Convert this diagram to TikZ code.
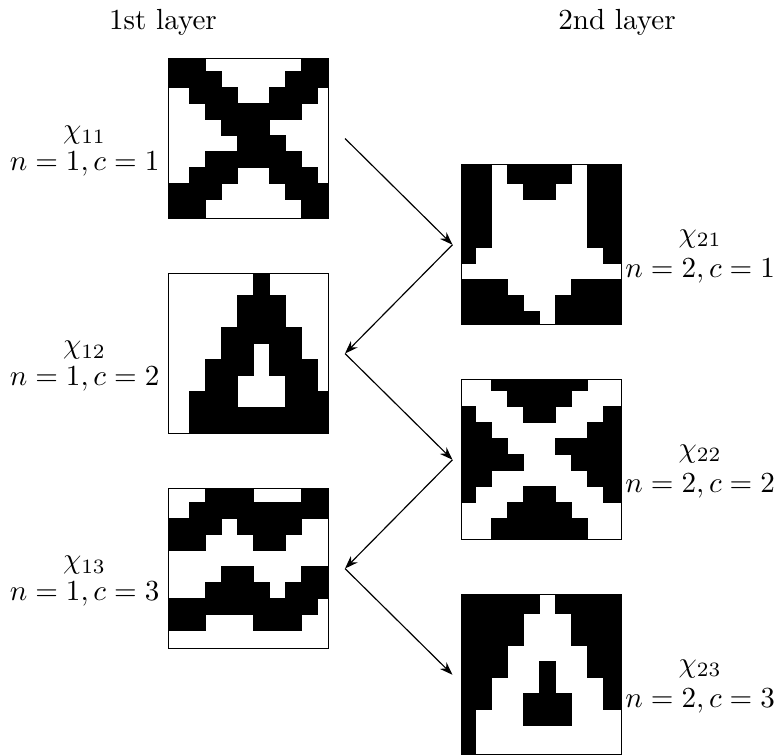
\documentclass[tikz,border=0pt]{standalone}
\usepackage{amsmath,amssymb}
\usepackage{tikz}
\usetikzlibrary{arrows.meta,positioning}

% black pixels of a 10x10 bitmap, clipped to the framed node #1
% #2,#3: offset of the pixel raster in cells, #4: rows (top to bottom)
\newcommand{\bitmap}[4]{%
  \begin{scope}[shift={(#1.north west)}]
    \clip (0,0) rectangle (160,160);
    \foreach \row [count=\j] in {#4} {
      \foreach \v [count=\i] in \row {
        \ifnum\v=1
          \pgfmathsetmacro{\xa}{ifthenelse(\i==1,-20,(\i-1+(#2))*16)}
          \pgfmathsetmacro{\xb}{ifthenelse(\i==10,180,(\i+(#2))*16)}
          \pgfmathsetmacro{\ya}{ifthenelse(\j==1,-20,(\j-1+(#3))*16)}
          \pgfmathsetmacro{\yb}{ifthenelse(\j==10,180,(\j+(#3))*16)}
          \path[cell] (\xa,\ya) rectangle (\xb,\yb);
        \fi
      }
    }
  \end{scope}
}

\begin{document}
\begin{tikzpicture}[x=0.3436pt, y=-0.3436pt,
    gridbox/.style={draw, minimum size=54.98pt, inner sep=0pt, outer sep=0pt},
    cell/.style={fill=black, draw=black, line width=0.2pt},
    lab/.style={align=center, inner sep=0pt},
    flow/.style={-{Stealth[length=4.5pt, width=3.2pt]}}]
    \useasboundingbox (0,0) rectangle (779,755);

    \node (t1) at (163,22) {1st layer};
    \node (t2) at (617,22) {2nd layer};

    % first layer
    \node[gridbox] (g11) at (248.5,138.5) {};
    \node[gridbox, below=18.9pt of g11] (g12) {};
    \node[gridbox, below=18.9pt of g12] (g13) {};
    % second layer
    \node[gridbox] (g21) at (541.2,244.7) {};
    \node[gridbox, below=18.9pt of g21] (g22) {};
    \node[gridbox, below=18.9pt of g22] (g23) {};

    \bitmap{g11}{0.29}{-0.17}{
      {1,1,0,0,0,0,0,0,1,1},{1,1,1,0,0,0,0,1,1,1},{0,1,1,1,0,0,1,1,1,0},
      {0,0,1,1,1,1,1,1,0,0},{0,0,0,1,1,1,0,0,0,0},{0,0,0,0,1,1,1,0,0,0},
      {0,0,1,1,1,1,1,1,0,0},{0,1,1,1,0,0,1,1,1,0},{1,1,1,0,0,0,0,1,1,1},
      {1,1,0,0,0,0,0,0,1,1}}
    \bitmap{g12}{0.29}{0.33}{
      {0,0,0,0,0,1,0,0,0,0},{0,0,0,0,1,1,1,0,0,0},{0,0,0,0,1,1,1,0,0,0},
      {0,0,0,1,1,1,1,1,0,0},{0,0,0,1,1,0,1,1,0,0},{0,0,1,1,1,0,1,1,1,0},
      {0,0,1,1,0,0,0,1,1,0},{0,1,1,1,0,0,0,1,1,1},{0,1,1,1,1,1,1,1,1,1},
      {0,1,1,1,1,1,1,1,1,1}}
    \bitmap{g13}{0.29}{-0.125}{
      {0,0,1,1,1,0,0,0,1,1},{0,1,1,1,1,1,1,1,1,1},{1,1,1,0,1,1,1,1,0,0},
      {1,1,0,0,0,1,1,0,0,0},{0,0,0,0,0,0,0,0,0,0},{0,0,0,1,1,0,0,0,1,1},
      {0,0,1,1,1,1,0,1,1,1},{1,1,1,1,1,1,1,1,1,0},{1,1,0,0,0,1,1,1,0,0},
      {0,0,0,0,0,0,0,0,0,0}}
    \bitmap{g21}{-0.125}{0.17}{
      {1,1,0,1,1,1,1,0,1,1},{1,1,0,0,1,1,0,0,1,1},{1,1,0,0,0,0,0,0,1,1},
      {1,1,0,0,0,0,0,0,1,1},{1,1,0,0,0,0,0,0,1,1},{1,0,0,0,0,0,0,0,0,1},
      {0,0,0,0,0,0,0,0,0,0},{1,1,1,0,0,0,0,1,1,1},{1,1,1,1,0,0,1,1,1,1},
      {1,1,1,1,1,0,1,1,1,1}}
    \bitmap{g22}{-0.125}{-0.33}{
      {0,0,1,1,1,1,1,1,0,0},{0,0,0,1,1,1,1,0,0,0},{1,0,0,0,1,1,0,0,0,1},
      {1,1,0,0,0,0,0,0,1,1},{1,1,1,0,0,0,1,1,1,1},{1,1,1,1,0,0,0,1,1,1},
      {1,1,0,0,0,0,0,0,1,1},{1,0,0,0,1,1,0,0,0,1},{0,0,0,1,1,1,1,0,0,0},
      {0,0,1,1,1,1,1,1,0,0}}
    \bitmap{g23}{-0.125}{0.17}{
      {1,1,1,1,1,0,1,1,1,1},{1,1,1,1,0,0,0,1,1,1},{1,1,1,1,0,0,0,1,1,1},
      {1,1,1,0,0,0,0,0,1,1},{1,1,1,0,0,1,0,0,1,1},{1,1,0,0,0,1,0,0,0,1},
      {1,1,0,0,1,1,1,0,0,1},{1,0,0,0,1,1,1,0,0,0},{1,0,0,0,0,0,0,0,0,0},
      {1,0,0,0,0,0,0,0,0,0}}

    % labels
    \node[lab, left=2.9pt of g11, yshift=-4.4pt] (l11) {$\chi_{11}$\\[-1pt]$n=1,c=1$};
    \node[lab, left=2.9pt of g12, yshift=-4.4pt] (l12) {$\chi_{12}$\\[-1pt]$n=1,c=2$};
    \node[lab, left=2.9pt of g13, yshift=-4.4pt] (l13) {$\chi_{13}$\\[-1pt]$n=1,c=3$};
    \node[lab, right=1.2pt of g21, yshift=-4pt] (l21) {$\chi_{21}$\\$n=2,c=1$};
    \node[lab, right=1.2pt of g22, yshift=-4pt] (l22) {$\chi_{22}$\\$n=2,c=2$};
    \node[lab, right=1.2pt of g23, yshift=-4pt] (l23) {$\chi_{23}$\\$n=2,c=3$};

    \draw[flow] ([xshift=5.67pt]g11.east) -- ([xshift=-3pt]g21.west);
    \draw[flow] ([xshift=-3pt]g21.west) -- ([xshift=5.67pt]g12.east);
    \draw[flow] ([xshift=5.67pt]g12.east) -- ([xshift=-3pt]g22.west);
    \draw[flow] ([xshift=-3pt]g22.west) -- ([xshift=5.67pt]g13.east);
    \draw[flow] ([xshift=5.67pt]g13.east) -- ([xshift=-3pt]g23.west);
\end{tikzpicture}
\end{document}
